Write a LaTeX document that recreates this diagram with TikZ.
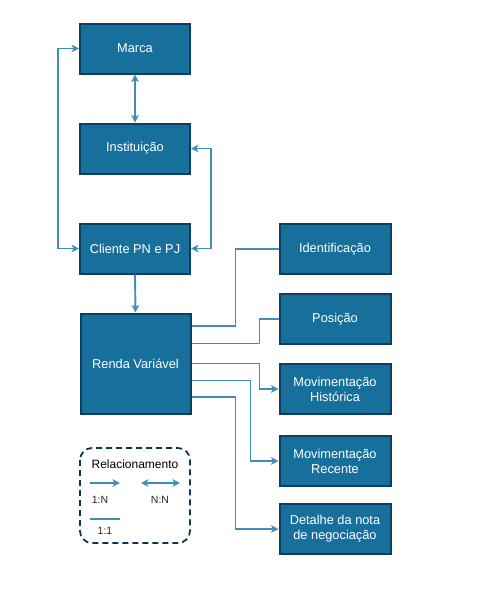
\documentclass[tikz,border=0pt]{standalone}
\usepackage{fontspec}
\setmainfont{Liberation Sans}
\usepackage{xcolor}
\usetikzlibrary{arrows, arrows.meta}
\usetikzlibrary{positioning}
\usetikzlibrary{calc}
\definecolor{boxfill}{RGB}{22,112,155}
\definecolor{boxline}{RGB}{13,62,96}
\definecolor{linkcol}{RGB}{66,141,182}
\definecolor{legline}{RGB}{16,52,82}

\begin{document}
\begin{tikzpicture}[x=1pt, y=-1pt,
		entity/.style={draw=boxline, line width=2pt, fill=boxfill, text=white, align=center,
			minimum width=110pt, minimum height=50pt, inner sep=2pt, font=\fontsize{12.8}{15}\selectfont},
		link/.style={draw=linkcol, line width=1.9pt},
		tip/.style={-{Stealth[length=7.5pt, width=7.5pt, inset=2pt]}},
		twotip/.style={{Stealth[length=7.5pt, width=7.5pt, inset=2pt]}-{Stealth[length=7.5pt, width=7.5pt, inset=2pt]}},
		legtext/.style={font=\fontsize{10.5}{12}\selectfont, text=black!85}]
	% page
	\useasboundingbox[fill=white] (0,0) rectangle (493,592);
	
	% draw left column
	\node[entity] (marca) at (135,48.5) {Marca};
	\node[entity] (inst) at (135,148.5) {Institui\c{c}\~ao};
	\node[entity] (cliente) at (135,248.5) {Cliente PN e PJ};
	\node[entity, minimum height=100pt] (renda) at (135.5,363.5) {Renda Vari\'avel};
	
	% draw right column
	\node[entity, minimum width=111pt] (ident) at (335,249) {Identifica\c{c}\~ao};
	\node[entity, minimum width=111pt] (pos) at (335,319) {Posi\c{c}\~ao};
	\node[entity, minimum width=111pt] (hist) at (335,389) {Movimenta\c{c}\~ao\\Hist\'orica};
	\node[entity, minimum width=111pt] (rec) at (335,461) {Movimenta\c{c}\~ao\\Recente};
	\node[entity, minimum width=111pt] (nota) at (335,529) {Detalhe da nota\\de negocia\c{c}\~ao};
	
	% links of the left column
	\draw[link, twotip] (marca.south) -- (inst.north);
	\draw[link, twotip] (marca.west) -- ++(-21,0) |- (cliente.west);
	\draw[link, twotip] (inst.east) -- ++(20,0) |- (cliente.east);
	\draw[link, tip] (cliente.south) -- (renda.north);
	
	% exits of Renda Variavel
	\coordinate (r1) at ([yshift=-13.5pt]renda.north east);
	\coordinate (r2) at ([yshift=-31pt]renda.north east);
	\coordinate (r3) at ([yshift=-51pt]renda.north east);
	\coordinate (r4) at ([yshift=-68pt]renda.north east);
	\coordinate (r5) at ([yshift=-84.5pt]renda.north east);
	\draw[link] (r1) -- ++(44,0) |- (ident.west);
	\draw[link] (r2) -- ++(68,0) |- (pos.west);
	\draw[link, tip] (r3) -- ++(68,0) |- (hist.west);
	\draw[link, tip] (r4) -- ++(59,0) |- (rec.west);
	\draw[link, tip] (r5) -- ++(44,0) |- (nota.west);
	
	% legend
	\draw[legline, line width=1.8pt, dash pattern=on 6pt off 4pt, rounded corners=12pt] (80,448) rectangle (190,543);
	\node[font=\fontsize{12}{14}\selectfont, text=black] (legtitle) at (135,464) {Relacionamento};
	\coordinate (a1) at (90,483);
	\coordinate (b1) at (120,483);
	\coordinate (a2) at (141,483);
	\coordinate (b2) at (180,483);
	\coordinate (a3) at (90,519);
	\coordinate (b3) at (120,519);
	\draw[link, tip] (a1) -- (b1);
	\draw[link, twotip] (a2) -- (b2);
	\draw[link] (a3) -- (b3);
	\node[legtext] (oneN) at (100,500) {1:N};
	\node[legtext] (NN) at (160,500) {N:N};
	\node[legtext] (oneone) at (105,530.5) {1:1};
\end{tikzpicture}
\end{document}
